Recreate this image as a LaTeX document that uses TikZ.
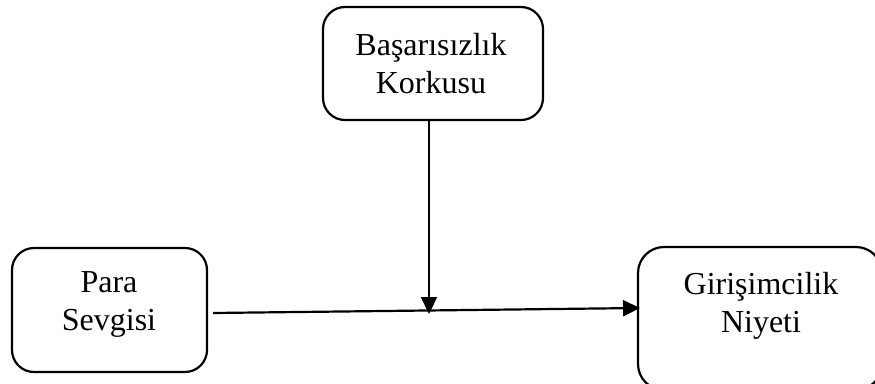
\documentclass[tikz,border=0pt]{standalone}
\usepackage{fontspec}
\setmainfont{Liberation Serif}
\usetikzlibrary{arrows.meta}
\begin{document}
\begin{tikzpicture}[x=1pt,y=1pt,
  box/.style={draw=black,line width=2.2pt,rounded corners=22pt,inner sep=0pt},
  lbl/.style={align=center,font=\fontsize{32}{38}\selectfont,inner sep=0pt},
  arr/.style={draw=black,line width=2.2pt,-{Triangle[length=17pt,width=16pt]}}]
\useasboundingbox (0,0) rectangle (875,-383);
\clip (0,0) rectangle (875,-383);
\node[box,minimum width=220pt,minimum height=113pt] (top) at (433,-63.5) {};
\node[box,minimum width=195pt,minimum height=124pt] (para) at (109.5,-310) {};
\node[box,minimum width=244pt,minimum height=143pt,rounded corners=26pt] (gir) at (760,-318.5) {};
\node[lbl] (ttop) at (431,-64) {Başarısızlık\\Korkusu};
\node[lbl] (tpara) at (109,-304) {Para\\Sevgisi};
\node[lbl] (tgir) at (761,-306) {Girişimcilik\\Niyeti};
\coordinate (m) at (429,-314);
\coordinate (hs) at (213,-313);
\coordinate (he) at (640,-308);
\draw[arr] (top.south -| m) -- (m);
\draw[arr] (hs) -- (he);
\end{tikzpicture}
\end{document}
